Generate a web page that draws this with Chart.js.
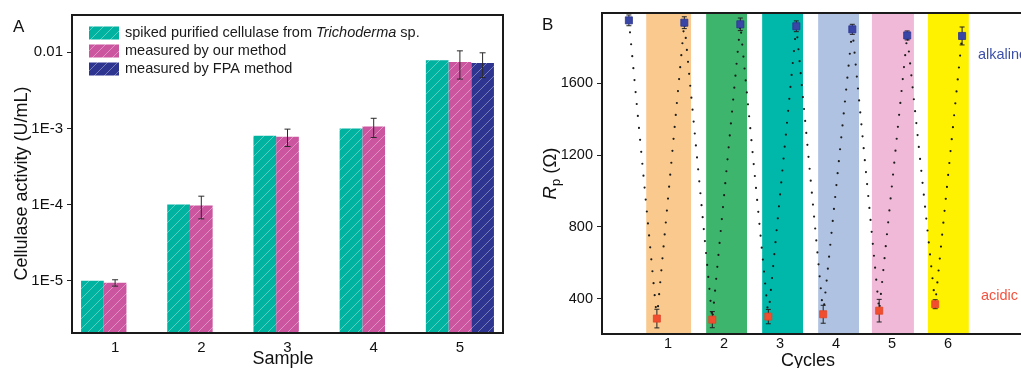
<!DOCTYPE html>
<html>
<head>
<meta charset="utf-8">
<script src="https://cdn.jsdelivr.net/npm/chart.js@4.4.1/dist/chart.umd.min.js"></script>
<style>
  html, body { margin: 0; padding: 0; background: #fff; overflow: hidden; }
  #wrap { position: relative; width: 1021px; height: 368px; overflow: hidden; }
  #boxA { position: absolute; left: 0; top: 0; width: 520px; height: 368px; }
  #boxB { position: absolute; left: 520px; top: 0; width: 501px; height: 368px; overflow: hidden; }
  canvas { display: block; }
</style>
</head>
<body>
<div id="wrap">
  <div id="boxA"><canvas id="chartA" width="520" height="368"></canvas></div>
  <div id="boxB"><canvas id="chartB" width="540" height="368"></canvas></div>
</div>
<script>
// ---- panel A: cellulase activity ----
const samples = ['1', '2', '3', '4', '5'];
const seriesLabels = ['spiked purified cellulase from Trichoderma sp.', 'measured by our method', 'measured by FPA method'];
const spiked = [1e-5, 1e-4, 8.0e-4, 1e-3, 7.85e-3];
const ourMethod = [9.4e-6, 9.7e-5, 7.8e-4, 1.06e-3, 7.45e-3];
const ourMethodErr = [0.9e-6, 3.2e-5, 2.0e-4, 3.0e-4, 3.0e-3];
const fpaMethod = [null, null, null, null, 7.25e-3];
const fpaMethodErr = [null, null, null, null, 2.6e-3];
const yTicksA = [1e-5, 1e-4, 1e-3, 1e-2];
const yTickLabelsA = ['1E-5', '1E-4', '1E-3', '0.01'];

// ---- panel B: Rp over cycles ----
const cycleTicks = [1, 2, 3, 4, 5, 6];
const alkalineX = [0.3, 1.29, 2.29, 3.29, 4.29, 5.27, 6.25];
const alkalineRp = [1951, 1938, 1929, 1918, 1901, 1867, 1864];
const alkalineErr = [30, 33, 35, 30, 28, 25, 50];
const acidicX = [0.8, 1.79, 2.79, 3.77, 4.77, 5.77];
const acidicRp = [289, 283, 300, 313, 333, 369];
const acidicErr = [52, 45, 40, 50, 63, 25];
const bandStart = [0.61, 1.68, 2.68, 3.68, 4.64, 5.64];
const bandEnd = [1.41, 2.41, 3.41, 4.41, 5.39, 6.37];
const yTicksB = [400, 800, 1200, 1600];

const FONT = 'Arial, "Liberation Sans", Helvetica, sans-serif';

function hatch(color) {
  const c = document.createElement('canvas');
  c.width = 10; c.height = 10;
  const g = c.getContext('2d');
  g.fillStyle = color;
  g.fillRect(0, 0, 10, 10);
  g.strokeStyle = 'rgba(255,255,255,0.45)';
  g.lineWidth = 0.8;
  g.beginPath();
  g.moveTo(-1, 11); g.lineTo(11, -1);
  g.moveTo(-1, 1); g.lineTo(1, -1);
  g.moveTo(9, 11); g.lineTo(11, 9);
  g.stroke();
  return g.createPattern(c, 'repeat');
}

// error bars, legend, frame and titles for A
const decorA = {
  id: 'decorA',
  afterDatasetsDraw(chart) {
    const { ctx } = chart;
    const y = chart.scales.y;
    ctx.save();
    ctx.strokeStyle = '#2a2a2a';
    ctx.lineWidth = 1;
    chart.data.datasets.forEach((ds, i) => {
      if (!ds.errors) return;
      chart.getDatasetMeta(i).data.forEach((bar, j) => {
        const v = ds.data[j], e = ds.errors[j];
        if (v == null || e == null) return;
        const top = y.getPixelForValue(v + e);
        const bot = y.getPixelForValue(v - e);
        ctx.beginPath();
        ctx.moveTo(bar.x, top); ctx.lineTo(bar.x, bot);
        ctx.moveTo(bar.x - 3, top); ctx.lineTo(bar.x + 3, top);
        ctx.moveTo(bar.x - 3, bot); ctx.lineTo(bar.x + 3, bot);
        ctx.stroke();
      });
    });
    ctx.restore();
  },
  afterDraw(chart) {
    const { ctx, chartArea: a } = chart;
    ctx.save();
    ctx.strokeStyle = '#1a1a1a';
    ctx.lineWidth = 2;
    ctx.strokeRect(a.left, a.top, a.right - a.left, a.bottom - a.top);

    // legend
    chart.data.datasets.forEach((ds, i) => {
      const cy = 33 + i * 18;
      ctx.fillStyle = ds.backgroundColor;
      ctx.fillRect(89, cy - 6.5, 30, 13);
      ctx.fillStyle = '#1a1a1a';
      ctx.textBaseline = 'middle';
      ctx.textAlign = 'left';
      const parts = ds.label.split('Trichoderma');
      let x = 125;
      parts.forEach((p, k) => {
        ctx.font = '14.5px ' + FONT;
        ctx.fillText(p, x, cy);
        x += ctx.measureText(p).width;
        if (k < parts.length - 1) {
          ctx.font = 'italic 14.5px ' + FONT;
          ctx.fillText('Trichoderma', x, cy);
          x += ctx.measureText('Trichoderma').width;
        }
      });
    });

    // titles
    ctx.fillStyle = '#111';
    ctx.textBaseline = 'alphabetic';
    ctx.font = '18px ' + FONT;
    ctx.textAlign = 'center';
    ctx.fillText('Sample', 283, 364);
    ctx.save();
    ctx.translate(27, 183.5);
    ctx.rotate(-Math.PI / 2);
    ctx.fillText('Cellulase activity (U/mL)', 0, 0);
    ctx.restore();
    ctx.font = '17px ' + FONT;
    ctx.textAlign = 'left';
    ctx.fillText('A', 13, 32);
    ctx.restore();
  }
};

new Chart(document.getElementById('chartA'), {
  type: 'bar',
  data: {
    labels: samples,
    datasets: [
      { label: seriesLabels[0], data: spiked, backgroundColor: hatch('#00b3a1') },
      { label: seriesLabels[1], data: ourMethod, errors: ourMethodErr, backgroundColor: hatch('#cc55a0') },
      { label: seriesLabels[2], data: fpaMethod, errors: fpaMethodErr, backgroundColor: hatch('#2e3590') }
    ]
  },
  options: {
    responsive: false,
    animation: false,
    layout: { padding: { left: 0, top: 15, right: 17, bottom: 0 } },
    datasets: { bar: { categoryPercentage: 0.79, barPercentage: 1 } },
    plugins: { legend: { display: false }, tooltip: { enabled: false } },
    scales: {
      x: {
        grid: { display: false, drawTicks: false },
        border: { display: false },
        ticks: { color: '#111', font: { size: 15, family: FONT }, padding: 6 },
        afterFit(s) { s.height = 35; }
      },
      y: {
        type: 'logarithmic',
        min: 2.06e-6,
        max: 0.0309,
        grid: { drawOnChartArea: false, drawTicks: true, tickLength: 5, color: '#222' },
        border: { display: false },
        afterBuildTicks(s) { s.ticks = yTicksA.map(v => ({ value: v })); },
        ticks: {
          color: '#111',
          font: { size: 15, family: FONT },
          padding: 4,
          callback: (v) => yTickLabelsA[yTicksA.indexOf(v)]
        },
        afterFit(s) { s.width = 72; }
      }
    }
  },
  plugins: [decorA]
});

// ---- B ----
const alkalinePts = alkalineX.map((x, i) => ({ x, y: alkalineRp[i] }));
const acidicPts = acidicX.map((x, i) => ({ x, y: acidicRp[i] }));
const transitionPts = [];
alkalineX.forEach((x, i) => {
  transitionPts.push({ x, y: alkalineRp[i] });
  if (i < acidicX.length) transitionPts.push({ x: acidicX[i], y: acidicRp[i] });
});

const decorB = {
  id: 'decorB',
  beforeDatasetsDraw(chart) {
    const { ctx, chartArea: a, scales: { x, y } } = chart;
    const colors = ['#f9c98d', '#3db56c', '#00b8aa', '#afc2e2', '#f0b9d7', '#fff200'];
    ctx.save();
    bandStart.forEach((s, i) => {
      const x0 = x.getPixelForValue(s), x1 = x.getPixelForValue(bandEnd[i]);
      ctx.fillStyle = colors[i];
      ctx.fillRect(x0, a.top, x1 - x0, a.bottom - a.top);
    });
    ctx.strokeStyle = '#222';
    ctx.lineWidth = 1;
    chart.data.datasets.forEach((ds) => {
      if (!ds.errors) return;
      ds.data.forEach((p, j) => {
        const px = x.getPixelForValue(p.x);
        const top = y.getPixelForValue(p.y + ds.errors[j]);
        const bot = y.getPixelForValue(p.y - ds.errors[j]);
        ctx.beginPath();
        ctx.moveTo(px, top); ctx.lineTo(px, bot);
        ctx.moveTo(px - 2.5, top); ctx.lineTo(px + 2.5, top);
        ctx.moveTo(px - 2.5, bot); ctx.lineTo(px + 2.5, bot);
        ctx.stroke();
      });
    });
    ctx.restore();
  },
  afterDraw(chart) {
    const { ctx, chartArea: a } = chart;
    ctx.save();
    ctx.strokeStyle = '#1a1a1a';
    ctx.lineWidth = 2;
    ctx.strokeRect(a.left, a.top, a.right - a.left, a.bottom - a.top);

    ctx.textBaseline = 'alphabetic';
    ctx.fillStyle = '#111';
    ctx.font = '18px ' + FONT;
    ctx.textAlign = 'center';
    ctx.fillText('Cycles', 288, 366);

    // R_p (Ω)
    ctx.save();
    ctx.translate(35.5, 173.5);
    ctx.rotate(-Math.PI / 2);
    ctx.textAlign = 'left';
    ctx.font = 'italic 18.5px ' + FONT;
    const wR = ctx.measureText('R').width;
    ctx.font = '13px ' + FONT;
    const wp = ctx.measureText('p').width;
    ctx.font = '18.5px ' + FONT;
    const wRest = ctx.measureText(' (Ω)').width;
    let u = -(wR + wp + wRest) / 2;
    ctx.font = 'italic 18.5px ' + FONT;
    ctx.fillText('R', u, 0); u += wR;
    ctx.font = '13px ' + FONT;
    ctx.fillText('p', u, 4); u += wp;
    ctx.font = '18.5px ' + FONT;
    ctx.fillText(' (Ω)', u, 0);
    ctx.restore();

    ctx.textAlign = 'left';
    ctx.font = '17px ' + FONT;
    ctx.fillText('B', 22, 30);
    ctx.font = '14.5px ' + FONT;
    ctx.fillStyle = '#3c50a8';
    ctx.fillText('alkaline', 458, 58.5);
    ctx.fillStyle = '#f2533f';
    ctx.fillText('acidic', 461, 300);
    ctx.restore();
  }
};

new Chart(document.getElementById('chartB'), {
  type: 'scatter',
  data: {
    datasets: [
      { label: 'alkaline', data: alkalinePts, errors: alkalineErr, pointStyle: 'rect', pointRadius: 5,
        backgroundColor: '#3946a6', borderColor: '#2b358f', borderWidth: 0.8 },
      { label: 'acidic', data: acidicPts, errors: acidicErr, pointStyle: 'rect', pointRadius: 5,
        backgroundColor: '#f04e2e', borderColor: '#e0452a', borderWidth: 0.8 },
      { label: 'transition', data: transitionPts, showLine: true, pointRadius: 0, fill: false,
        borderColor: '#1c1c1c', borderWidth: 2.2, borderDash: [0, 12], borderCapStyle: 'round' }
    ]
  },
  options: {
    responsive: false,
    animation: false,
    layout: { padding: { left: 0, top: 13, right: 10, bottom: 0 } },
    plugins: { legend: { display: false }, tooltip: { enabled: false } },
    scales: {
      x: {
        type: 'linear',
        min: -0.18,
        max: 7.82,
        grid: { display: false, drawTicks: false },
        border: { display: false },
        afterBuildTicks(s) { s.ticks = cycleTicks.map(v => ({ value: v })); },
        ticks: { color: '#111', font: { size: 14.5, family: FONT }, padding: 1, callback: (v) => String(v) },
        afterFit(s) { s.height = 34; }
      },
      y: {
        min: 203,
        max: 1992,
        grid: { drawOnChartArea: false, drawTicks: true, tickLength: 5, color: '#222' },
        border: { display: false },
        afterBuildTicks(s) { s.ticks = yTicksB.map(v => ({ value: v })); },
        ticks: { color: '#111', font: { size: 14.5, family: FONT }, padding: 4, callback: (v) => String(v) },
        afterFit(s) { s.width = 82; }
      }
    }
  },
  plugins: [decorB]
});
</script>
</body>
</html>
